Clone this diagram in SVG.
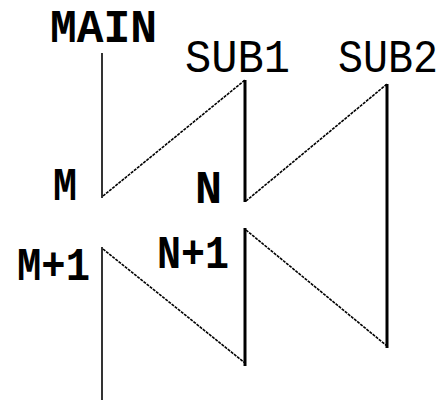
<svg xmlns="http://www.w3.org/2000/svg" width="448" height="400" viewBox="0 0 448 400">
<style>
text{font-family:"Liberation Mono","DejaVu Sans Mono",monospace;font-weight:bold;font-size:46px;fill:#000}
text.reg{font-weight:normal}
.thin{stroke:#000;stroke-width:1.6;fill:none}
.thick{stroke:#000;stroke-width:3;fill:none}
.diag{stroke:#000;stroke-width:1.6;fill:none;stroke-dasharray:3 1}
</style>
<rect width="448" height="400" fill="#fff"/>
<g id="main"><text x="50" y="42" textLength="107" lengthAdjust="spacingAndGlyphs">MAIN</text></g>
<g id="sub1"><text class="reg" x="185" y="72" textLength="105" lengthAdjust="spacingAndGlyphs">SUB1</text></g>
<g id="sub2"><text class="reg" x="338" y="72" textLength="100" lengthAdjust="spacingAndGlyphs">SUB2</text></g>
<g id="m"><text x="53" y="200" textLength="24" lengthAdjust="spacingAndGlyphs">M</text></g>
<g id="n"><text x="195" y="203" textLength="27" lengthAdjust="spacingAndGlyphs">N</text></g>
<g id="m1"><text x="17" y="280" textLength="73" lengthAdjust="spacingAndGlyphs">M+1</text></g>
<g id="n1"><text x="157" y="268" textLength="72" lengthAdjust="spacingAndGlyphs">N+1</text></g>
<g id="connectors">
<path class="thin" d="M102 53V198"/>
<path class="diag" d="M103 196L245 80"/>
<path class="thick" d="M245 80V202"/>
<path class="diag" d="M246 201L387 84"/>
<path class="thick" d="M387 84V348"/>
<path class="thin" d="M102 247V400"/>
<path class="diag" d="M103 249L245 363"/>
<path class="thick" d="M245 228V366"/>
<path class="diag" d="M246 230L387 346"/>
</g>
</svg>
